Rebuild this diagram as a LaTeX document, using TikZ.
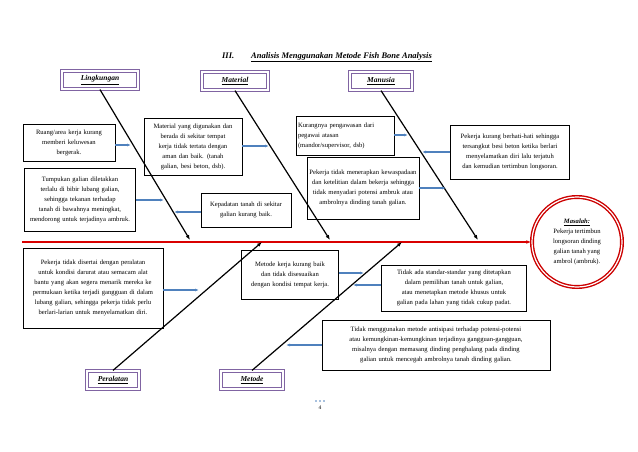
\documentclass[tikz,border=0pt]{standalone}
\usepackage{fontspec}
\setmainfont{Liberation Serif}
\usetikzlibrary{arrows.meta}
\definecolor{catframe}{RGB}{128,100,162}
\definecolor{pushblue}{RGB}{79,129,189}
\hyphenpenalty=10000
\exhyphenpenalty=10000
\tikzset{
  cause/.style={draw, thick, align=center, inner sep=2pt, font=\fontsize{6.6}{10}\selectfont},
  category/.style={draw=catframe, line width=1.2pt, double=white, double distance=1.3pt, minimum height=18pt, font=\fontsize{7.5}{8}\selectfont\bfseries\itshape},
  bone/.style={very thick, -{Latex[length=5pt]}},
  push/.style={line width=1.3pt, draw=pushblue, -{Latex[length=4pt]}}
}
\begin{document}
\begin{tikzpicture}[x=1pt, y=-1pt]
  \useasboundingbox (0,0) rectangle (638,452);
  % Title
  \node[font=\fontsize{8.5}{9}\selectfont\bfseries\itshape] (title) at (327,57) {III.\qquad\underline{Analisis Menggunakan Metode Fish Bone Analysis}};

  % Categories
  \node[category, minimum width=76pt] (ling) at (100,80) {\underline{Lingkungan}};
  \node[category, minimum width=66pt] (mat) at (235,81) {\underline{Material}};
  \node[category, minimum width=62pt] (man) at (381,81) {\underline{Manusia}};
  \node[category, minimum width=52pt] (per) at (113,380) {\underline{Peralatan}};
  \node[category, minimum width=62pt] (met) at (252,380) {\underline{Metode}};

  % Problem
  \node[circle, draw=red!80!black, line width=1.4pt, double=white, double distance=1.2pt, minimum size=90pt, align=center, font=\fontsize{6.6}{10}\selectfont] (prob) at (577,242) {\textbf{\textit{\underline{Masalah:}}}\\Pekerja tertimbun\\longsoran dinding\\galian tanah yang\\ambrol (ambruk).};

  % Spine
  \coordinate (tail) at (22,242);
  \draw[line width=1.3pt, red!85!black, -{Latex[length=5pt]}] (tail) -- (prob.west);

  % Bones
  \coordinate (lingend) at (190,240);
  \coordinate (matend) at (330,240);
  \coordinate (manend) at (478,240);
  \coordinate (perend) at (262,242);
  \coordinate (metend) at (402,242);
  \draw[bone] (ling.south) -- (lingend);
  \draw[bone] (mat.south) -- (matend);
  \draw[bone] (man.south) -- (manend);
  \draw[bone] (per.north) -- (perend);
  \draw[bone] (met.north) -- (metend);

  % Causes
  \node[cause, text width=88pt, minimum height=37pt] (c1) at (69,143) {Ruang/area kerja kurang\\memberi keluwesan\\bergerak.};
  \node[cause, text width=94pt, minimum height=57pt] (c2) at (193,147) {Material yang digunakan dan berada di sekitar tempat kerja tidak tertata dengan aman dan baik. (tanah galian, besi beton, dsb).};
  \node[cause, text width=94pt, minimum height=39pt, align=left] (c3) at (345,136) {Kurangnya pengawasan dari\\pegawai atasan\\(mandor/supervisor, dsb)};
  \node[cause, text width=115pt, minimum height=54pt] (c4) at (510,152) {Pekerja kurang berhati-hati sehingga tersangkut besi beton ketika berlari menyelamatkan diri lalu terjatuh dan kemudian tertimbun longsoran.};
  \node[cause, text width=107pt, minimum height=63pt] (c5) at (80,200) {Tumpukan galian diletakkan terlalu di bibir lubang galian, sehingga tekanan terhadap tanah di bawahnya meningkat, mendorong untuk terjadinya ambruk.};
  \node[cause, text width=86pt, minimum height=34pt] (c6) at (246,210) {Kepadatan tanah di sekitar galian kurang baik.};
  \node[cause, text width=108pt, minimum height=62pt] (c7) at (363,188) {Pekerja tidak menerapkan kewaspadaan dan ketelitian dalam bekerja sehingga tidak menyadari potensi ambruk atau ambrolnya dinding tanah galian.};
  \node[cause, text width=136pt, minimum height=80pt] (c8) at (93,288) {Pekerja tidak disertai dengan peralatan untuk kondisi darurat atau semacam alat bantu yang akan segera menarik mereka ke permukaan ketika terjadi gangguan di dalam lubang galian, sehingga pekerja tidak perlu berlari-larian untuk menyelamatkan diri.};
  \node[cause, text width=93pt, minimum height=49pt] (c9) at (290,275) {Metode kerja kurang baik dan tidak disesuaikan dengan kondisi tempat kerja.};
  \node[cause, text width=141pt, minimum height=46pt] (c10) at (454,288) {Tidak ada standar-standar yang ditetapkan dalam pemilihan tanah untuk galian, atau menetapkan metode khusus untuk galian pada lahan yang tidak cukup padat.};
  \node[cause, text width=224pt, minimum height=50pt] (c11) at (436,345) {Tidak menggunakan metode antisipasi terhadap potensi-potensi atau kemungkinan-kemungkinan terjadinya gangguan-gangguan, misalnya dengan memasang dinding penghalang pada dinding galian untuk mencegah ambrolnya tanah dinding galian.};

  % Cause arrows
  \coordinate (a1) at (131,145);
  \coordinate (a2) at (269,146);
  \coordinate (a3) at (408,135);
  \coordinate (a4) at (422,152);
  \coordinate (a5) at (164,200);
  \coordinate (a6) at (174,212);
  \coordinate (a7) at (446,188);
  \coordinate (a8) at (199,290);
  \coordinate (a9) at (364,273);
  \coordinate (a10) at (353,285);
  \coordinate (a11) at (286,345);
  \draw[push] (c1.east |- a1) -- (a1);
  \draw[push] (c2.east |- a2) -- (a2);
  \draw[push] (c3.east |- a3) -- (a3);
  \draw[push] (c4.west |- a4) -- (a4);
  \draw[push] (c5.east |- a5) -- (a5);
  \draw[push] (c6.west |- a6) -- (a6);
  \draw[push] (c7.east |- a7) -- (a7);
  \draw[push] (c8.east |- a8) -- (a8);
  \draw[push] (c9.east |- a9) -- (a9);
  \draw[push] (c10.west |- a10) -- (a10);
  \draw[push] (c11.west |- a11) -- (a11);

  % Page number
  \node[font=\fontsize{5.5}{6}\selectfont] (page) at (320,408) {4};
  \foreach \dx in {-4,0,4} {
    \fill[pushblue] (320+\dx,401) circle (0.9pt);
  }
\end{tikzpicture}
\end{document}
